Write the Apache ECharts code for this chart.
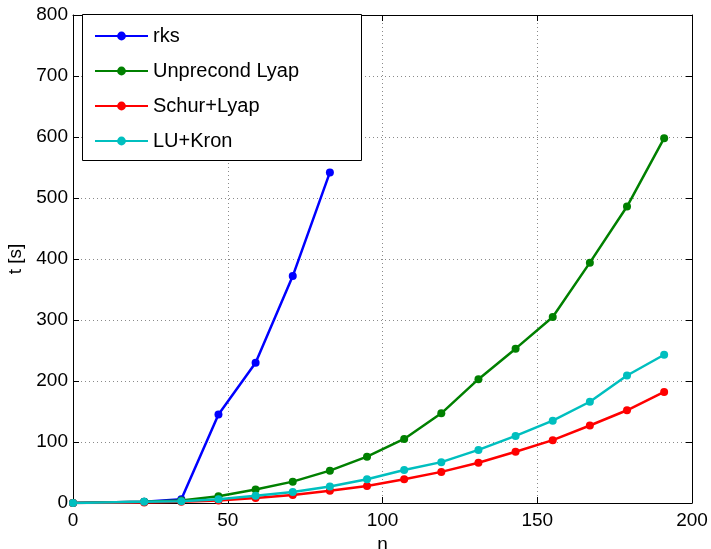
<!DOCTYPE html>
<html>
<head>
<meta charset="utf-8">
<script src="https://cdn.jsdelivr.net/npm/echarts@6/dist/echarts.min.js"></script>
<style>
  html, body { margin: 0; padding: 0; background: #fff; overflow: hidden; }
  #chart { width: 711px; height: 549px; }
</style>
</head>
<body>
<div id="chart"></div>
<script>
// Problem sizes n and run times t [s] for each solver
const nValues = [0, 23, 35, 47, 59, 71, 83, 95, 107, 119, 131, 143, 155, 167, 179, 191];
const rksTimes = [0, 2, 6, 145, 230, 372, 542];
const unprecondLyapTimes = [0, 2, 4, 11, 22, 35, 53, 76, 105, 147, 203, 253, 305, 394, 486, 598];
const schurLyapTimes = [0, 1, 2, 4, 8, 13, 20, 28, 39, 51, 66, 84, 103, 127, 152, 182];
const luKronTimes = [0, 2, 3, 6, 12, 18, 27, 39, 54, 67, 87, 110, 135, 166, 209, 243];

const seriesNames = ['rks', 'Unprecond Lyap', 'Schur+Lyap', 'LU+Kron'];
const seriesColors = ['#0000ff', '#008000', '#ff0000', '#00bfbf'];
const seriesTimes = [rksTimes, unprecondLyapTimes, schurLyapTimes, luKronTimes];

const xTicks = { min: 0, max: 200, interval: 50 };
const yTicks = { min: 0, max: 800, interval: 100 };

const FONT = '"Liberation Sans", Arial, Helvetica, sans-serif';
const TICK_FONT_SIZE = 19;
const LEGEND_FONT_SIZE = 20;

const chart = echarts.init(document.getElementById('chart'), null, {
  renderer: 'canvas', width: 711, height: 549
});

const pairs = (ys) => ys.map((y, i) => [nValues[i], y]);

const gridLine = { show: true, lineStyle: { color: '#8a8a8a', type: [1, 3], width: 1 } };
const axisCommon = {
  type: 'value',
  axisLine: { show: true, onZero: false, lineStyle: { color: '#000', width: 1 } },
  axisTick: { show: true, inside: true, length: 6, lineStyle: { color: '#000' } },
  splitLine: { show: false },
  axisLabel: { show: false }
};
const nameStyle = { color: '#000', fontSize: TICK_FONT_SIZE, fontFamily: FONT };
const labelStyle = { show: true, color: '#000', fontSize: TICK_FONT_SIZE, fontFamily: FONT };

const option = {
  backgroundColor: '#fff',
  animation: false,
  grid: {
    left: 73, right: 19, top: 15, bottom: 46,
    containLabel: false, outerBoundsMode: 'none'
  },
  xAxis: [
    Object.assign({}, axisCommon, xTicks, {
      position: 'bottom',
      name: 'n', nameLocation: 'middle', nameGap: 30, nameTextStyle: nameStyle,
      axisLabel: Object.assign({ margin: 8 }, labelStyle),
      splitLine: gridLine
    }),
    Object.assign({}, axisCommon, xTicks, { position: 'top' })
  ],
  yAxis: [
    Object.assign({}, axisCommon, yTicks, {
      position: 'left',
      name: 't [s]', nameLocation: 'middle', nameGap: 46, nameRotate: 90, nameTextStyle: nameStyle,
      axisLabel: Object.assign({ margin: 5 }, labelStyle),
      splitLine: gridLine
    }),
    Object.assign({}, axisCommon, yTicks, { position: 'right' })
  ],
  legend: {
    orient: 'vertical',
    left: 94, top: 26,
    padding: 0,
    itemWidth: 53, itemHeight: 11, itemGap: 15,
    textStyle: { color: '#000', fontSize: LEGEND_FONT_SIZE, fontFamily: FONT },
    data: seriesNames,
    z: 10
  },
  graphic: [{
    type: 'rect',
    z: 5,
    shape: { x: 82.5, y: 14.5, width: 279, height: 146 },
    style: { fill: '#fff', stroke: '#000', lineWidth: 1 }
  }],
  series: seriesNames.map((name, k) => ({
    name: name,
    type: 'line',
    xAxisIndex: 0, yAxisIndex: 0,
    data: pairs(seriesTimes[k]),
    symbol: 'circle',
    symbolSize: 8,
    showAllSymbol: true,
    lineStyle: { color: seriesColors[k], width: 2.5 },
    itemStyle: { color: seriesColors[k] },
    z: 2 + k
  }))
};

chart.setOption(option);
</script>
</body>
</html>
